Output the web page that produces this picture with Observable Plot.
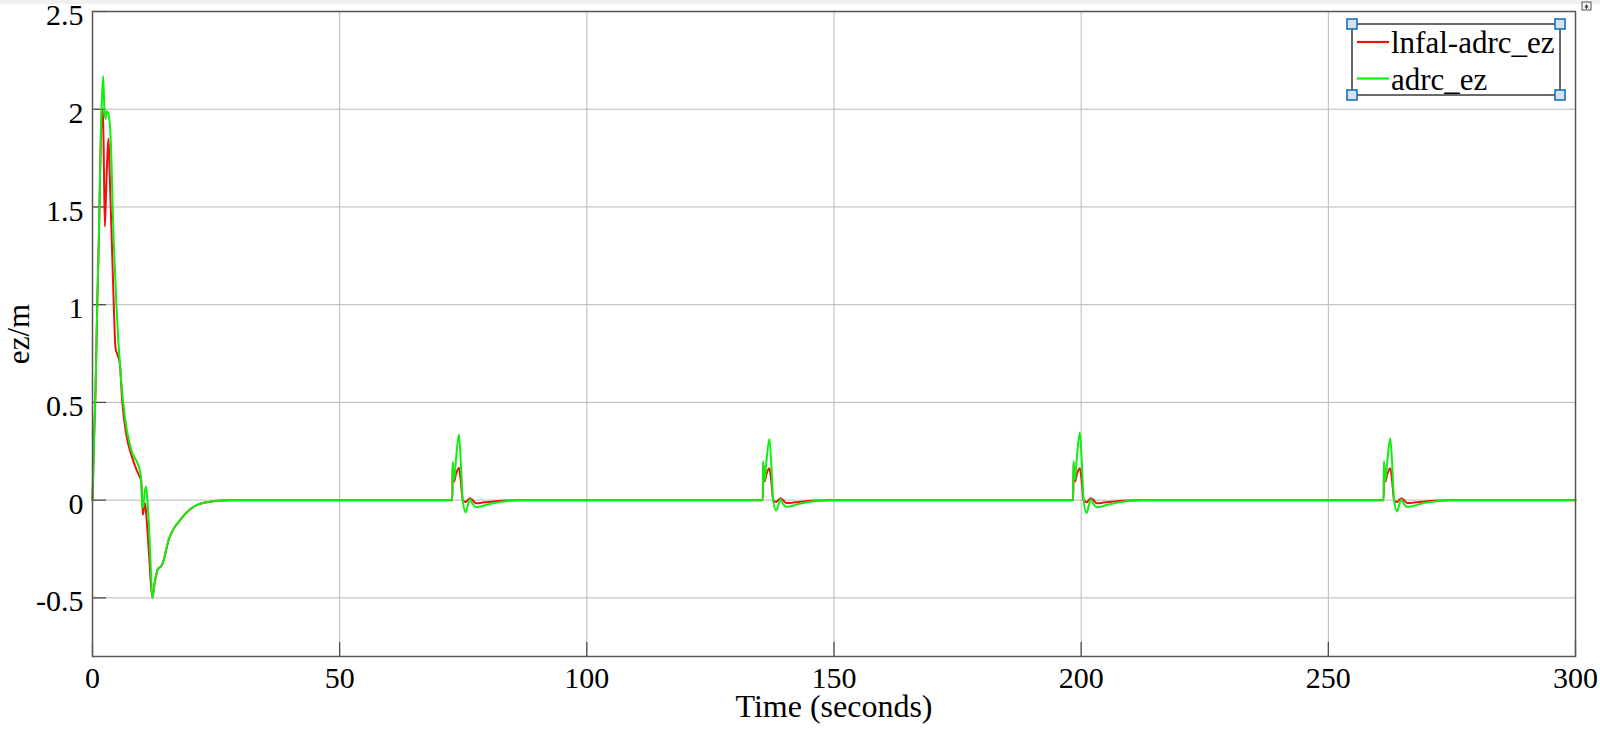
<!DOCTYPE html>
<html>
<head>
<meta charset="utf-8">
<script src="https://cdn.jsdelivr.net/npm/d3@7"></script>
<script src="https://cdn.jsdelivr.net/npm/@observablehq/plot@0.6"></script>
<style>
  html, body { margin: 0; padding: 0; background: #fff; }
  #wrap { position: relative; width: 1600px; height: 736px; }
  #topstrip { position: absolute; left: 0; top: 0; width: 1600px; height: 4px; background: #f0f0f0; }
  #legend { position: absolute; left: 0; top: 0; pointer-events: none; }
</style>
</head>
<body>
<div id="wrap"><div id="topstrip"></div></div>
<script>
// ---------- data ----------
const seriesNames = ["lnfal-adrc_ez", "adrc_ez"];
const seriesColors = ["#f01010", "#10f010"];

// initial transient, lnfal-adrc_ez
const lnfalInitTime  = [0, 0.3, 0.6, 1.0, 1.3, 1.62, 1.9, 2.1, 2.3, 2.5, 2.8, 3.05, 3.24, 3.5, 3.96, 4.3, 4.65, 5.1, 5.53, 6.0, 6.8, 8.0, 9.0, 9.7, 9.85, 10.05, 10.2, 10.45, 10.6, 10.8, 11.1, 11.5, 12.1, 12.6, 13.2, 14.1, 15.45, 17.8, 21.2, 24.5, 27.9, 30];
const lnfalInitValue = [0, 0.3, 0.55, 1.05, 1.35, 1.78, 1.98, 2.0, 1.72, 1.40, 1.62, 1.78, 1.85, 1.65, 1.28, 1.0, 0.78, 0.74, 0.70, 0.51, 0.34, 0.22, 0.15, 0.11, 0.10, 0.0, -0.075, -0.03, -0.015, -0.05, -0.15, -0.3, -0.50, -0.42, -0.355, -0.33, -0.20, -0.10, -0.024, -0.005, 0, 0];

// initial transient, adrc_ez
const adrcInitTime  = [0, 0.3, 0.6, 1.0, 1.3, 1.62, 1.95, 2.16, 2.4, 2.63, 2.9, 3.2, 3.64, 4.3, 4.86, 5.67, 6.55, 7.7, 9.7, 9.9, 10.1, 10.3, 10.55, 10.86, 11.1, 11.4, 11.8, 12.1, 12.6, 13.2, 14.1, 15.45, 17.8, 21.2, 24.5, 27.9, 30];
const adrcInitValue = [0, 0.3, 0.55, 1.05, 1.35, 1.8, 2.08, 2.17, 2.0, 1.95, 1.99, 1.98, 1.87, 1.32, 0.985, 0.65, 0.425, 0.27, 0.14, 0.07, -0.04, -0.03, 0.04, 0.07, 0.0, -0.12, -0.35, -0.50, -0.42, -0.355, -0.33, -0.20, -0.10, -0.024, -0.005, 0, 0];

// periodic disturbances
const spikeStart  = [72.8, 135.6, 198.4, 261.2];
const spikeOffset = [0, 0.05, 0.35, 0.7, 1.33, 1.7, 2.1, 2.7, 3.1, 3.55, 4.1, 4.75, 5.8, 7.2, 9.0, 11.0, 13.5];
const adrcSpike1  = [0, 0.197, 0.103, 0.2, 0.336, 0.2, 0, -0.062, -0.03, 0.005, -0.02, -0.036, -0.032, -0.022, -0.012, -0.004, 0];
const adrcSpike2  = [0, 0.200, 0.100, 0.19, 0.312, 0.19, 0, -0.053, -0.028, 0.004, -0.02, -0.034, -0.030, -0.020, -0.011, -0.004, 0];
const adrcSpike3  = [0, 0.200, 0.105, 0.21, 0.346, 0.21, 0, -0.066, -0.032, 0.005, -0.022, -0.036, -0.032, -0.022, -0.012, -0.004, 0];
const adrcSpike4  = [0, 0.200, 0.100, 0.19, 0.315, 0.19, 0, -0.058, -0.029, 0.004, -0.02, -0.035, -0.031, -0.021, -0.011, -0.004, 0];
const lnfalSpike1 = [0, 0.19, 0.095, 0.13, 0.166, 0.10, 0, -0.010, 0.0, 0.010, 0.0, -0.016, -0.014, -0.009, -0.005, -0.002, 0];
const lnfalSpike2 = [0, 0.19, 0.095, 0.13, 0.163, 0.10, 0, -0.010, 0.0, 0.010, 0.0, -0.015, -0.014, -0.009, -0.005, -0.002, 0];
const lnfalSpike3 = [0, 0.19, 0.095, 0.13, 0.163, 0.10, 0, -0.011, 0.0, 0.010, 0.0, -0.016, -0.014, -0.009, -0.005, -0.002, 0];
const lnfalSpike4 = [0, 0.19, 0.095, 0.13, 0.163, 0.10, 0, -0.010, 0.0, 0.010, 0.0, -0.015, -0.014, -0.009, -0.005, -0.002, 0];
const endTime = 300;

// axes
const xTicks = [0, 50, 100, 150, 200, 250, 300];
const yTicks = [-0.5, 0, 0.5, 1, 1.5, 2, 2.5];
const yTickLabels = ["-0.5", "0", "0.5", "1", "1.5", "2", "2.5"];
const xDomain = [0, 300];
const yDomain = [-0.8, 2.5];

// ---------- assemble rows ----------
function buildSeries(name, initT, initV, spikes) {
  const rows = initT.map((t, i) => ({series: name, t, v: initV[i]}));
  spikes.forEach((vals, k) => {
    spikeOffset.forEach((o, i) => rows.push({series: name, t: spikeStart[k] + o, v: vals[i]}));
  });
  rows.push({series: name, t: endTime, v: 0});
  return rows;
}
const lnfalRows = buildSeries(seriesNames[0], lnfalInitTime, lnfalInitValue, [lnfalSpike1, lnfalSpike2, lnfalSpike3, lnfalSpike4]);
const adrcRows  = buildSeries(seriesNames[1], adrcInitTime, adrcInitValue, [adrcSpike1, adrcSpike2, adrcSpike3, adrcSpike4]);

const W = 1600, H = 736;
const mL = 92, mR = 25, mT = 11, mB = 80;
const yPerPx = (yDomain[1] - yDomain[0]) / (H - mT - mB);
const xPerPx = (xDomain[1] - xDomain[0]) / (W - mL - mR);
const tickLen = 14;

const chart = Plot.plot({
  width: W, height: H,
  marginLeft: mL, marginRight: mR, marginTop: mT, marginBottom: mB,
  style: {fontFamily: "'Liberation Serif', 'Times New Roman', serif", fontSize: "30px", background: "white", color: "#000"},
  x: {domain: xDomain},
  y: {domain: yDomain},
  marks: [
    Plot.gridX(xTicks, {stroke: "#b8b8b8", strokeOpacity: 1, strokeWidth: 1}),
    Plot.gridY(yTicks, {stroke: "#b8b8b8", strokeOpacity: 1, strokeWidth: 1}),
    Plot.ruleY(yTicks, {x1: xDomain[0], x2: xDomain[0] + tickLen * xPerPx, stroke: "#444", strokeWidth: 1.2}),
    Plot.ruleX(xTicks, {y1: yDomain[0], y2: yDomain[0] + tickLen * yPerPx, stroke: "#444", strokeWidth: 1.2}),
    Plot.line(lnfalRows, {x: "t", y: "v", stroke: seriesColors[0], strokeWidth: 2, curve: "monotone-x"}),
    Plot.line(adrcRows, {x: "t", y: "v", stroke: seriesColors[1], strokeWidth: 2, curve: "monotone-x"}),
    Plot.frame({stroke: "#555", strokeWidth: 1.5}),
    Plot.axisX(xTicks, {tickSize: 0, tickPadding: 10, fontSize: 30, label: null}),
    Plot.axisX({tickSize: 0, ticks: [], fontSize: 32, label: "Time (seconds)", labelAnchor: "center", labelArrow: "none", labelOffset: 60}),
    Plot.axisY(yTicks, {tickSize: 0, tickPadding: 9, dy: 4, fontSize: 30, tickFormat: d => yTickLabels[yTicks.indexOf(d)], label: null}),
    Plot.axisY({tickSize: 0, ticks: [], fontSize: 31, label: "ez/m", labelAnchor: "center", labelArrow: "none", labelOffset: 86})
  ]
});
document.getElementById("wrap").appendChild(chart);

// ---------- legend (overlay) ----------
const ns = "http://www.w3.org/2000/svg";
const lg = document.createElementNS(ns, "svg");
lg.setAttribute("id", "legend");
lg.setAttribute("width", W); lg.setAttribute("height", H);
const box = {x: 1352, y: 24, w: 208, h: 71};
function el(tag, attrs, text) {
  const e = document.createElementNS(ns, tag);
  for (const k in attrs) e.setAttribute(k, attrs[k]);
  if (text) e.textContent = text;
  lg.appendChild(e);
  return e;
}
el("rect", {x: box.x, y: box.y, width: box.w, height: box.h, fill: "white", stroke: "#3a3a3a", "stroke-width": 1.5});
seriesNames.forEach((name, i) => {
  const cy = box.y + 18 + i * 36.5;
  el("line", {x1: box.x + 5, x2: box.x + 37, y1: cy, y2: cy, stroke: seriesColors[i], "stroke-width": 2.2});
  el("text", {x: box.x + 39, y: cy + 11, "font-family": "'Liberation Serif', serif", "font-size": 31, fill: "#000"}, name);
});
[[box.x, box.y], [box.x + box.w, box.y], [box.x, box.y + box.h], [box.x + box.w, box.y + box.h]].forEach(([cx, cy]) => {
  el("rect", {x: cx - 5, y: cy - 5, width: 10, height: 10, fill: "#d3e4f4", stroke: "#1d6db5", "stroke-width": 1.6});
});
el("rect", {x: 1582, y: 2, width: 9, height: 8, fill: "#f4f4f4", stroke: "#555", "stroke-width": 1});
el("path", {d: "M1584.5 7.5 L1586.5 4 L1588.5 7.5 Z M1586 7.5 v1.5 h1 v-1.5", fill: "#333"});
document.getElementById("wrap").appendChild(lg);
</script>
</body>
</html>
